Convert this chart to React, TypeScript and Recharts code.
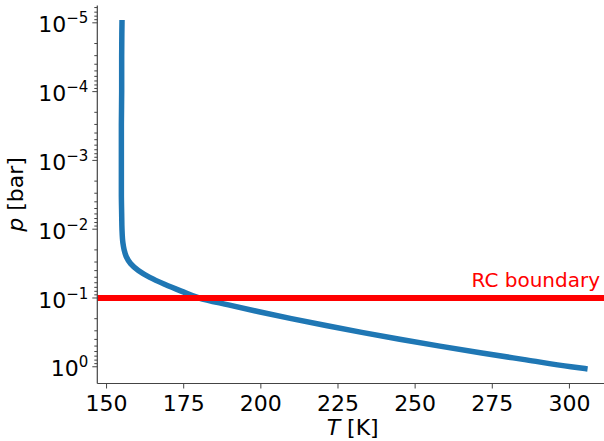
import React from 'react';
import { LineChart, Line, XAxis, YAxis, ReferenceLine, Label } from 'recharts';

// Temperature-pressure profile
const pressure = [
  1e-5, 3e-5, 1e-4, 3e-4, 1e-3, 3e-3, 6e-3, 0.01, 0.01585, 0.01995, 0.02512,
  0.03162, 0.03981, 0.05012, 0.0631, 0.07943, 0.1, 0.1259, 0.1585, 0.1995,
  0.2512, 0.3162, 0.3981, 0.5012, 0.631, 0.7943, 1.0, 1.062,
];
const temperature = [
  155.0, 154.9, 154.9, 154.8, 154.8, 154.8, 154.9, 155.0, 155.3, 155.7, 156.4,
  157.8, 160.3, 164.0, 168.8, 174.2, 180.0, 189.5, 199.4, 209.9,
  221.1, 232.7, 245.0, 258.0, 271.6, 286.0, 300.5, 305.0,
];

const rcBoundary = 0.1;

const xTicks = [150, 175, 200, 225, 250, 275, 300];
const yMajorTicks = [1e-5, 1e-4, 1e-3, 1e-2, 1e-1, 1];
const yMajorExponents = ['−5', '−4', '−3', '−2', '−1', '0'];
const minorDecades = [1e-6, 1e-5, 1e-4, 1e-3, 1e-2, 1e-1];
const minorMantissas = [2, 3, 4, 5, 6, 7, 8, 9];

const X_DOMAIN: [number, number] = [147, 312.5];
const Y_DOMAIN: [number, number] = [5.6e-6, 1.75];

const data = pressure.map((p, i) => ({ p, T: temperature[i] }));

const yMinorTicks = minorDecades
  .flatMap((d) => minorMantissas.map((m) => +(m * d).toPrecision(3)))
  .filter((v) => v >= Y_DOMAIN[0] && v <= Y_DOMAIN[1]);
const yTicks = [...yMajorTicks, ...yMinorTicks].sort((a, b) => a - b);

const FONT = '"DejaVu Sans", sans-serif';
const AXIS = '#444';
const FS = 22;

const YTick = (props: any) => {
  const { x, y, payload } = props;
  const idx = yMajorTicks.findIndex((v) => Math.abs(v - payload.value) / v < 1e-6);
  const major = idx >= 0;
  const len = major ? 5 : 3;
  return (
    <g>
      <line x1={x - len} x2={x} y1={y} y2={y} stroke={AXIS} strokeWidth={1} />
      {major && (
        <text x={x - 9} y={y + 9.6} textAnchor="end" fontSize={FS} fontFamily={FONT} fill="#000">
          10
          <tspan dy={-9} fontSize={15}>
            {yMajorExponents[idx]}
          </tspan>
        </text>
      )}
    </g>
  );
};

const XTick = (props: any) => {
  const { x, y, payload } = props;
  return (
    <g>
      <line x1={x} x2={x} y1={y} y2={y + 5} stroke={AXIS} strokeWidth={1} />
      <text x={x} y={y + 27.5} textAnchor="middle" fontSize={FS} fontFamily={FONT} fill="#000">
        {payload.value}
      </text>
    </g>
  );
};

export default function App() {
  return (
    <div style={{ width: 604, height: 441, overflow: 'hidden', background: '#fff' }}>
      <style>{`body{margin:0}`}</style>
      <LineChart
        width={612}
        height={441}
        data={data}
        margin={{ top: 5.5, right: 4, bottom: 0, left: 0 }}
      >
        <XAxis
          dataKey="T"
          type="number"
          domain={X_DOMAIN}
          allowDataOverflow
          ticks={xTicks}
          interval={0}
          height={57.5}
          tickSize={0}
          tickMargin={0}
          tickLine={false}
          tick={<XTick />}
          axisLine={{ stroke: AXIS, strokeWidth: 1.2 }}
        >
          <Label
            content={({ viewBox }: any) => (
              <text
                x={viewBox.x + viewBox.width / 2}
                y={viewBox.y + 51.5}
                textAnchor="middle"
                fontSize={FS}
                fontFamily={FONT}
                fill="#000"
              >
                <tspan fontStyle="italic">T</tspan> [K]
              </text>
            )}
          />
        </XAxis>
        <XAxis
          xAxisId="top"
          orientation="top"
          dataKey="T"
          type="number"
          domain={X_DOMAIN}
          allowDataOverflow
          height={0}
          tick={false}
          tickLine={false}
          axisLine={{ stroke: AXIS, strokeWidth: 1.2 }}
        />
        <YAxis
          dataKey="p"
          type="number"
          scale="log"
          domain={Y_DOMAIN}
          allowDataOverflow
          reversed
          ticks={yTicks}
          interval={0}
          width={97.3}
          tickSize={0}
          tickMargin={0}
          tickLine={false}
          tick={<YTick />}
          axisLine={{ stroke: AXIS, strokeWidth: 1.2 }}
        >
          <Label
            content={({ viewBox }: any) => {
              const cx = 22.7;
              const cy = viewBox.y + viewBox.height / 2;
              return (
                <text
                  x={cx}
                  y={cy}
                  transform={`rotate(-90, ${cx}, ${cy})`}
                  textAnchor="middle"
                  fontSize={FS}
                  fontFamily={FONT}
                  fill="#000"
                >
                  <tspan fontStyle="italic">p</tspan> [bar]
                </text>
              );
            }}
          />
        </YAxis>
        <Line
          dataKey="p"
          type="monotoneY"
          stroke="#1f77b4"
          strokeWidth={5.5}
          strokeLinecap="square"
          dot={false}
          activeDot={false}
          isAnimationActive={false}
        />
        <ReferenceLine
          y={rcBoundary}
          stroke="#ff0000"
          strokeWidth={6}
          label={
            <Label
              content={({ viewBox }: any) => (
                <text
                  x={viewBox.x + viewBox.width - 8}
                  y={viewBox.y - 11}
                  textAnchor="end"
                  fontSize={20}
                  fontFamily={FONT}
                  fill="#ff0000"
                >
                  RC boundary
                </text>
              )}
            />
          }
        />
      </LineChart>
    </div>
  );
}
